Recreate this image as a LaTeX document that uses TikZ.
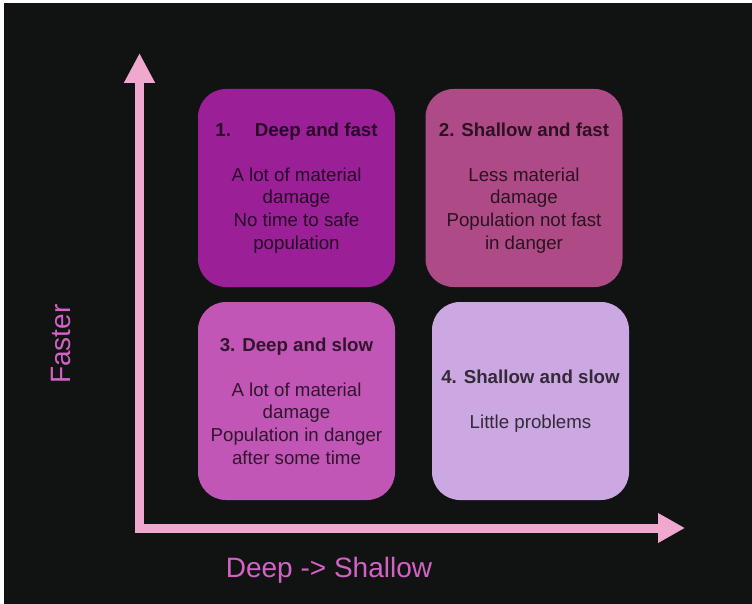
\documentclass[tikz,border=0pt]{standalone}
\usepackage{fontspec}
\setmainfont{Liberation Sans}
\usetikzlibrary{positioning, arrows.meta}

\definecolor{backdrop}{HTML}{111313}
\definecolor{axiscol}{HTML}{F0A8CF}
\definecolor{labelcol}{HTML}{D462C6}
\definecolor{zoneone}{HTML}{9B1F97}
\definecolor{zonetwo}{HTML}{AE4A86}
\definecolor{zonethree}{HTML}{C156B6}
\definecolor{zonefour}{HTML}{CCA8E2}

\begin{document}
\begin{tikzpicture}[
    x=1pt,
    y=-1pt,
    on grid,
    zone/.style={
        rounded corners=28pt,
        minimum width=197pt,
        minimum height=198pt,
        align=center,
        text=black,
        text opacity=0.75,
        font=\fontsize{18.7}{22.7}\selectfont
    },
    axis/.style={
        draw=axiscol,
        line width=9pt,
        {Triangle[length=30pt,width=29pt]}-{Triangle[length=27pt,width=28pt]}
    },
    axislabel/.style={
        text=labelcol,
        font=\fontsize{28}{32}\selectfont
    }
]

% canvas
\useasboundingbox (0,0) rectangle (752,604);
\fill[white] (0,0) rectangle (752,604);
\fill[backdrop] (4,3) rectangle (752,604);

% quadrants
\node[zone, fill=zoneone] (deepfast) at (296.5,188)
    {\textbf{1.\hspace{24pt}Deep and fast}\\[22.3pt]A lot of material\\damage\\No time to safe\\population};
\node[zone, fill=zonetwo, right=227.5pt of deepfast] (shallowfast)
    {\textbf{2. Shallow and fast}\\[22.3pt]Less material\\damage\\Population not fast\\in danger};
\node[zone, fill=zonethree, below=213pt of deepfast] (deepslow)
    {\textbf{3. Deep and slow}\\[22.3pt]A lot of material\\damage\\Population in danger\\after some time};
\node[zone, fill=zonefour, right=234pt of deepslow] (shallowslow)
    {\textbf{4. Shallow and slow}\\[22.3pt]Little problems};

% axes
\coordinate (ytip) at (139.5,53);
\coordinate (xtip) at (685,528);
\draw[axis] (ytip) |- (xtip);

% axis labels
\node[axislabel, rotate=90, anchor=base] (faster) at (70,344) {Faster};
\node[axislabel, anchor=base] (depth) at (329,577) {Deep -> Shallow};
\end{tikzpicture}
\end{document}
